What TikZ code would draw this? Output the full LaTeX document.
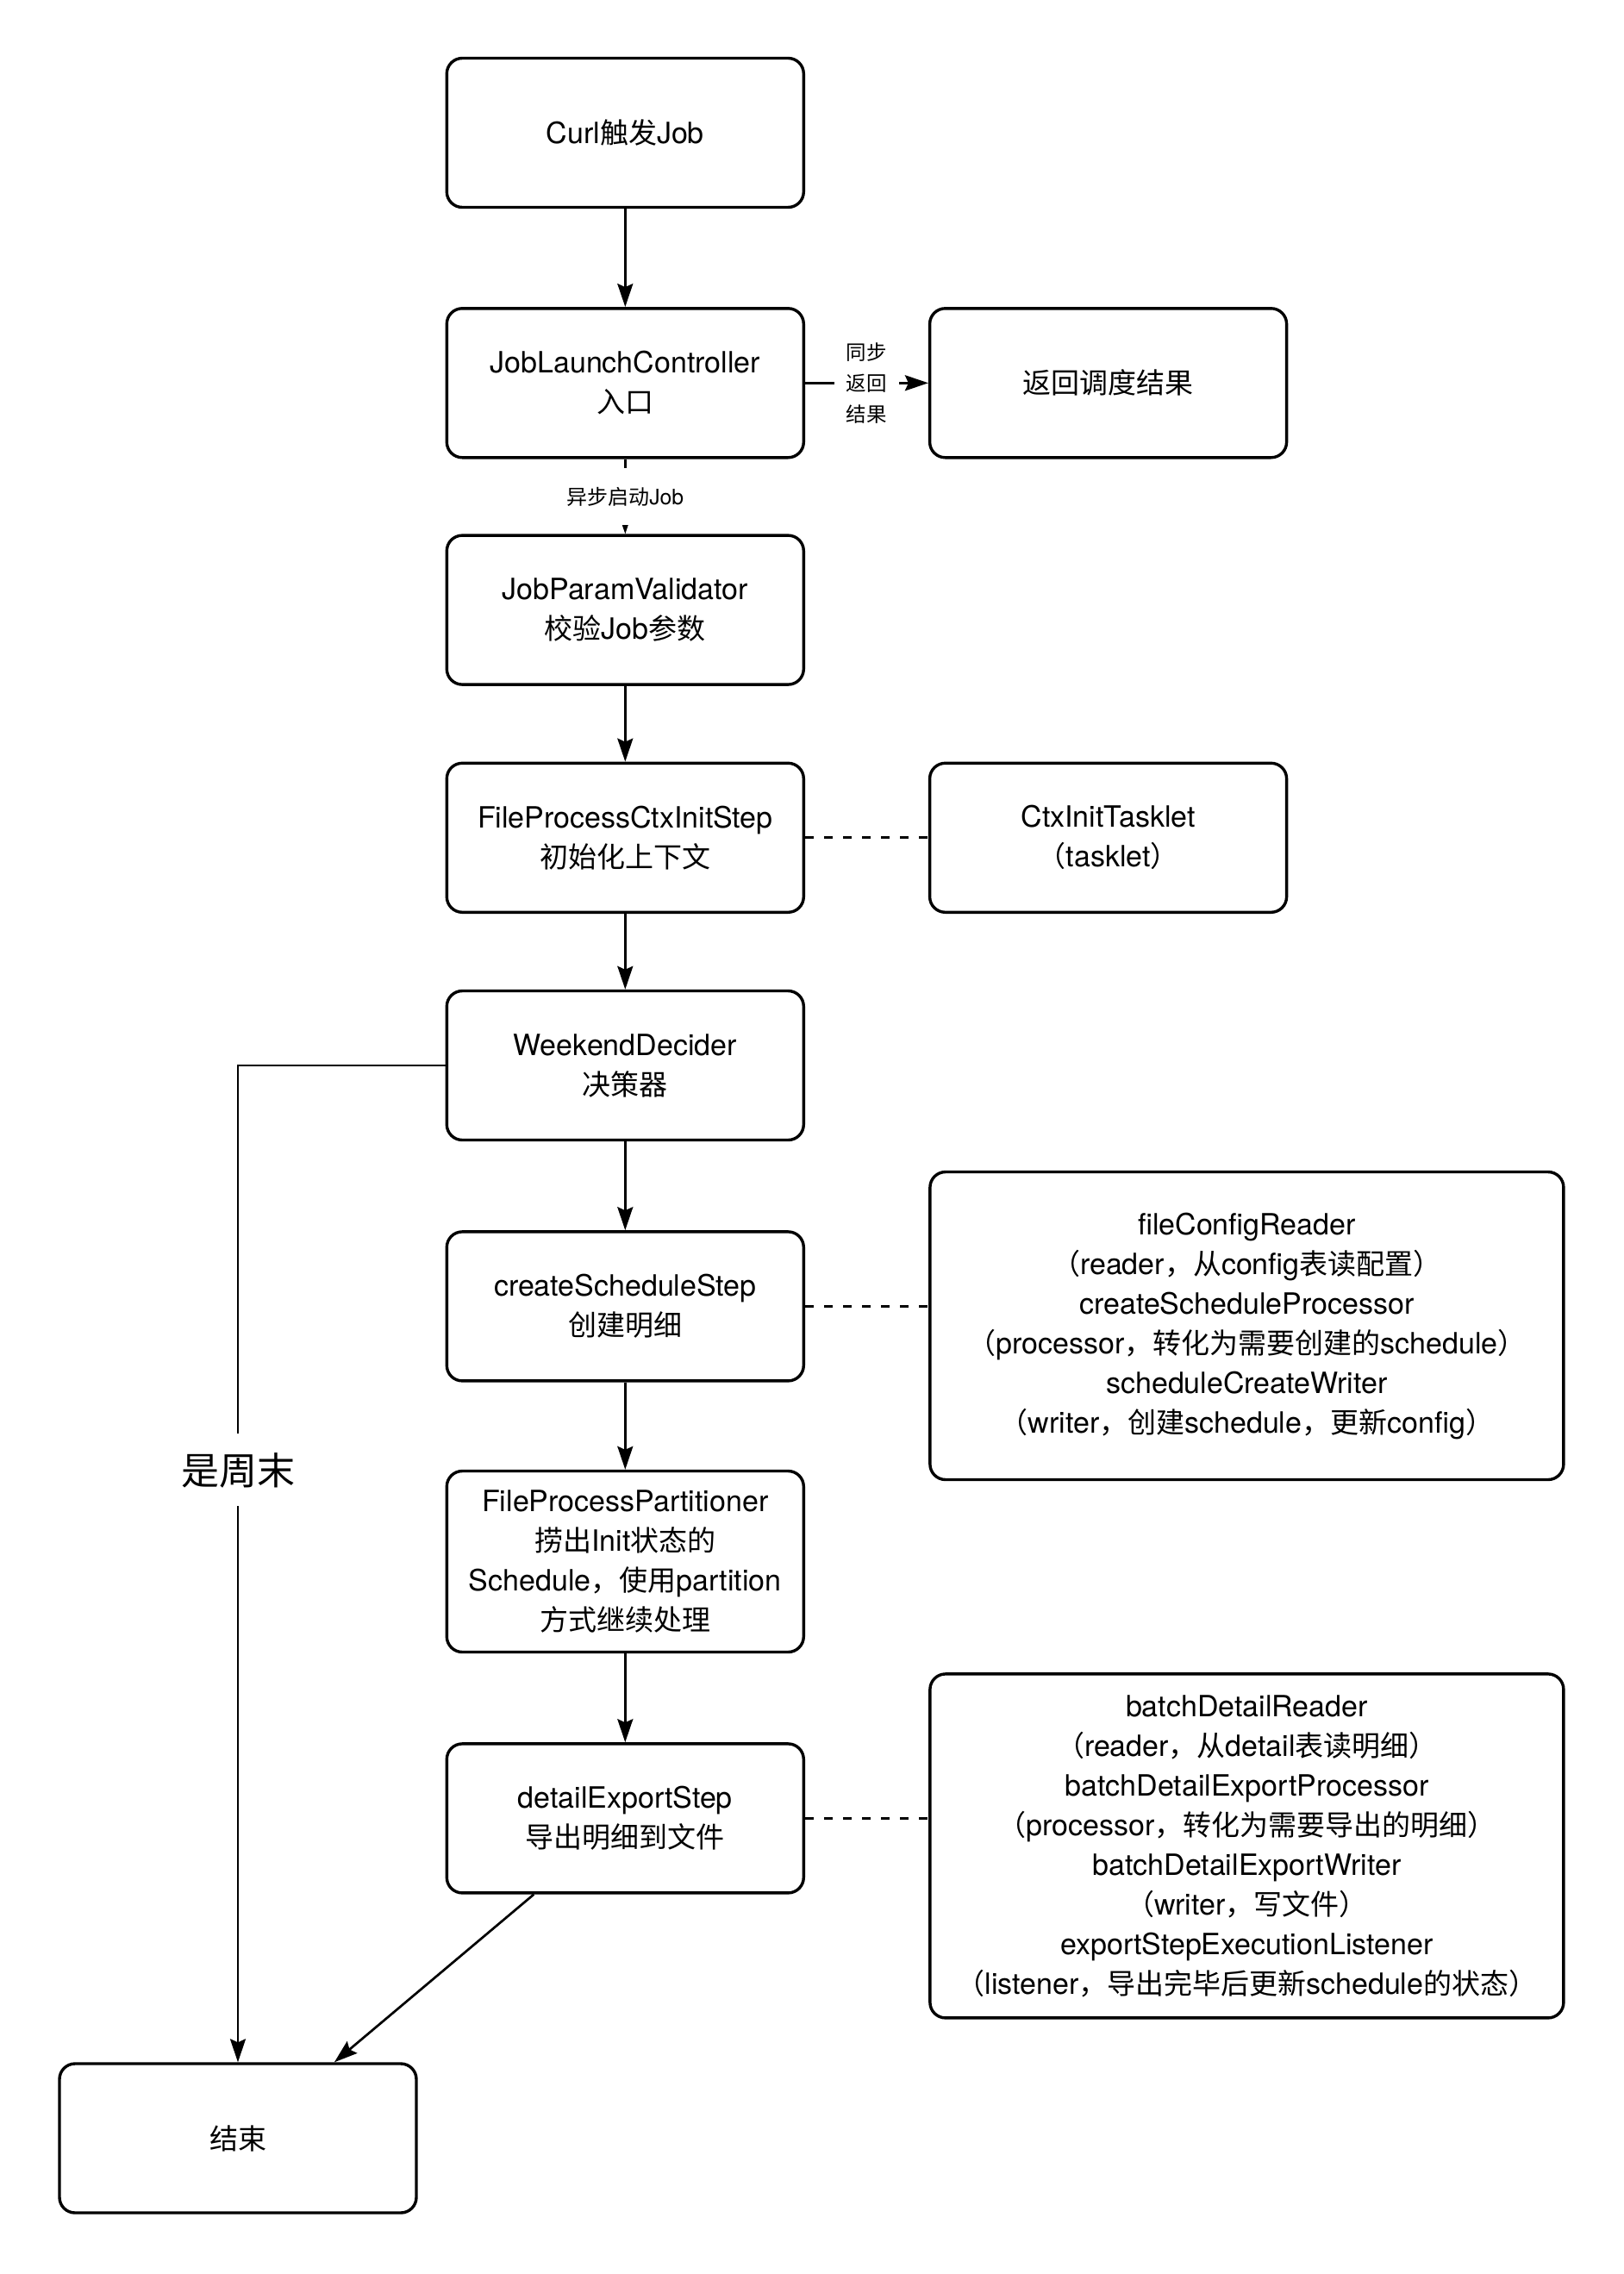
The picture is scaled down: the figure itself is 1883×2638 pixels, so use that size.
\documentclass[tikz,border=0pt]{standalone}
\usepackage{fontspec}
\setmainfont[Scale=1.03]{TeX Gyre Heros}
\newfontfamily\cjkfont{Noto Sans CJK SC}
\newcommand\cj[1]{{\cjkfont #1}}
\usetikzlibrary{arrows.meta,calc}
\begin{document}
\begin{tikzpicture}[x=1pt,y=-1pt,
  box/.style={draw=black,line width=3.4pt,rounded corners=18pt,minimum width=414pt,minimum height=173pt,inner sep=0pt,align=center,font=\fontsize{33}{46}\selectfont,fill=white},
  bigbox/.style={box,minimum width=735pt},
  conn/.style={line width=2.7pt,-{Stealth[length=27pt,width=18pt,inset=4pt]}},
  dashconn/.style={line width=3.2pt,dash pattern=on 10pt off 12pt},
  lbl/.style={fill=white,align=center,inner sep=0pt}
]
\useasboundingbox (0,0) rectangle (1883,2638);
\fill[white] (0,0) rectangle (1883,2638);

\node[box] (curl) at (725.3,154) {Curl\cj{触发}Job};
\node[box] (jlc) at (725.3,444.3) {JobLaunchController\\\cj{入口}};
\node[box] (ret) at (1285.6,444.3) {\cj{返回调度结果}};
\node[box] (jpv) at (725.3,707.6) {JobParamValidator\\\cj{校验}Job\cj{参数}};
\node[box] (ctx) at (725.3,971.8) {FileProcessCtxInitStep\\\cj{初始化上下文}};
\node[box] (task) at (1285.6,971.8) {CtxInitTasklet\\\cj{（}tasklet\cj{）}};
\node[box] (wd) at (725.3,1236) {WeekendDecider\\\cj{决策器}};
\node[box] (css) at (725.3,1515.4) {createScheduleStep\\\cj{创建明细}};
\node[box,minimum height=210pt] (fpp) at (725.3,1811.5) {FileProcessPartitioner\\\cj{捞出}Init\cj{状态的}\\Schedule\cj{，使用}partition\\\cj{方式继续处理}};
\node[box] (des) at (725.3,2109.4) {detailExportStep\\\cj{导出明细到文件}};
\node[box] (fin) at (276,2480.5) {\cj{结束}};

\node[bigbox,minimum height=357pt] (big1) at (1446.4,1538) {fileConfigReader\\\cj{（}reader\cj{，从}config\cj{表读配置）}\\createScheduleProcessor\\\cj{（}processor\cj{，转化为需要创建的}schedule\cj{）}\\scheduleCreateWriter\\\cj{（}writer\cj{，创建}schedule\cj{，更新}config\cj{）}};
\node[bigbox,minimum height=399pt] (big2) at (1446.4,2141.4) {batchDetailReader\\\cj{（}reader\cj{，从}detail\cj{表读明细）}\\batchDetailExportProcessor\\\cj{（}processor\cj{，转化为需要导出的明细）}\\batchDetailExportWriter\\\cj{（}writer\cj{，写文件）}\\exportStepExecutionListener\\\cj{（}listener\cj{，导出完毕后更新}schedule\cj{的状态）}};

\draw[conn] (curl) -- (jlc);
\draw[conn] (jlc.east) -- (ret.west)
  node[midway,lbl,minimum width=75pt,minimum height=110pt,font=\fontsize{23.5}{36}\selectfont] (lsync) {\cj{同步}\\\cj{返回}\\\cj{结果}};
\draw[conn] (jlc) -- (jpv)
  node[midway,lbl,minimum height=66pt,font=\fontsize{24}{30}\selectfont] (lasync) {\cj{异步启动}Job};
\draw[conn] (jpv) -- (ctx);
\draw[dashconn] (ctx.east) -- (task.west);
\draw[conn] (ctx) -- (wd);
\coordinate (wdturn) at (276,1236);
\draw[conn] (wd.west) -- (wdturn) -- (fin.north)
  node[pos=0.406,lbl,minimum height=84pt,font=\fontsize{44}{50}\selectfont] (lweek) {\cj{是周末}};
\draw[conn] (wd) -- (css);
\draw[dashconn] (css.east) -- (big1.west |- css.east);
\draw[conn] (css) -- (fpp);
\draw[conn] (fpp) -- (des);
\draw[dashconn] (des.east) -- (big2.west |- des.east);
\draw[conn] ($(des.south west)!0.246!(des.south east)$) -- ($(fin.north west)!0.768!(fin.north east)$);
\end{tikzpicture}
\end{document}
